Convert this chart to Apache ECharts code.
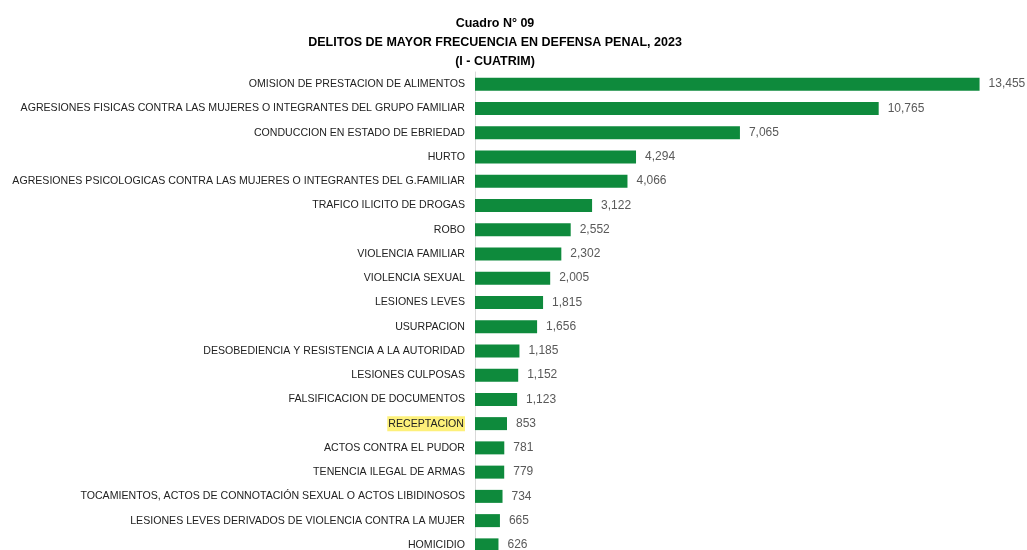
<!DOCTYPE html>
<html>
<head>
<meta charset="utf-8">
<script src="https://cdn.jsdelivr.net/npm/echarts@6/dist/echarts.min.js"></script>
<style>
  html, body { margin: 0; padding: 0; background: #fff; }
  #chart { width: 1027px; height: 550px; }
</style>
</head>
<body>
<div id="chart"></div>
<script>
var categories = [
    'OMISION DE PRESTACION DE ALIMENTOS',
    'AGRESIONES FISICAS CONTRA LAS MUJERES O INTEGRANTES DEL GRUPO FAMILIAR',
    'CONDUCCION EN ESTADO DE EBRIEDAD',
    'HURTO',
    'AGRESIONES PSICOLOGICAS CONTRA LAS MUJERES O INTEGRANTES DEL G.FAMILIAR',
    'TRAFICO ILICITO DE DROGAS',
    'ROBO',
    'VIOLENCIA FAMILIAR',
    'VIOLENCIA SEXUAL',
    'LESIONES LEVES',
    'USURPACION',
    'DESOBEDIENCIA Y RESISTENCIA A LA AUTORIDAD',
    'LESIONES CULPOSAS',
    'FALSIFICACION DE DOCUMENTOS',
    'RECEPTACION',
    'ACTOS CONTRA EL PUDOR',
    'TENENCIA ILEGAL DE ARMAS',
    'TOCAMIENTOS, ACTOS DE CONNOTACIÓN SEXUAL O ACTOS LIBIDINOSOS',
    'LESIONES LEVES DERIVADOS DE VIOLENCIA CONTRA LA MUJER',
    'HOMICIDIO'
];
var casos = [13455, 10765, 7065, 4294, 4066, 3122, 2552, 2302, 2005, 1815,
             1656, 1185, 1152, 1123, 853, 781, 779, 734, 665, 626];
// categoria resaltada en amarillo
var resaltado = 'RECEPTACION';

var option = {
    backgroundColor: '#fff',
    title: {
        text: 'Cuadro N° 09\nDELITOS DE MAYOR FRECUENCIA EN DEFENSA PENAL, 2023\n(I - CUATRIM)',
        left: 490,
        textAlign: 'center',
        top: 9,
        textStyle: {
            fontFamily: 'Liberation Sans',
            fontSize: 12.5,
            fontWeight: 'bold',
            color: '#000',
            lineHeight: 19
        }
    },
    grid: {
        left: 475,
        top: 72,
        width: 525,
        height: 485,
        outerBoundsMode: 'none'
    },
    xAxis: {
        type: 'value',
        min: 0,
        max: 14000,
        show: false
    },
    yAxis: {
        type: 'category',
        data: categories,
        inverse: true,
        axisLine: { lineStyle: { color: '#d9d9d9', width: 1 } },
        axisTick: { show: false },
        axisLabel: {
            margin: 10,
            fontFamily: 'Liberation Sans',
            fontSize: 10.6,
            color: '#222',
            formatter: function (v) {
                return v === resaltado ? '{hl|' + v + '}' : v;
            },
            rich: {
                hl: {
                    backgroundColor: '#fdf07a',
                    fontFamily: 'Liberation Sans',
                    fontSize: 10.6,
                    color: '#222',
                    padding: [2, 1, 2, 1]
                }
            }
        }
    },
    series: [
        {
            type: 'bar',
            data: casos,
            barWidth: 13,
            itemStyle: { color: '#0e8a3c' },
            label: {
                show: true,
                position: 'right',
                distance: 9,
                fontFamily: 'Liberation Sans',
                fontSize: 12,
                color: '#595959',
                formatter: function (p) {
                    return p.value.toLocaleString('en-US');
                }
            },
            animation: false
        }
    ]
};

var myChart = echarts.init(document.getElementById('chart'));
myChart.setOption(option);
</script>
</body>
</html>
